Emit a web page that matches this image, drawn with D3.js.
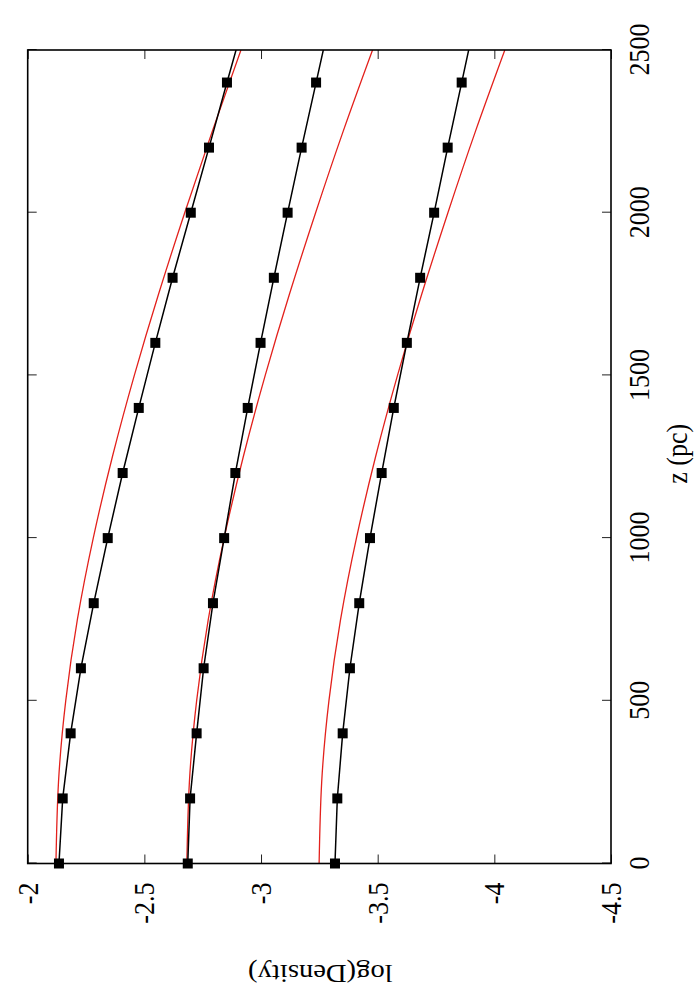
<!DOCTYPE html>
<html>
<head>
<meta charset="utf-8">
<script src="https://cdn.jsdelivr.net/npm/d3@7"></script>
<style>
  html, body { margin: 0; padding: 0; background: #fff; }
  svg { display: block; }
  svg text { font-family: "Liberation Serif", "Times New Roman", Times, "DejaVu Serif", serif !important; font-size: 26px; fill: #000; }
</style>
</head>
<body>
<svg id="chart" width="700" height="1000"></svg>
<script>
// ---- data ----
const zData   = [0, 200, 400, 600, 800, 1000, 1200, 1400, 1600, 1800, 2000, 2200, 2400, 2600];
const series1 = [-2.134, -2.150, -2.184, -2.228, -2.283, -2.343, -2.407, -2.476, -2.547, -2.621, -2.699, -2.777, -2.854, -2.932];
const series2 = [-2.686, -2.696, -2.724, -2.754, -2.794, -2.842, -2.890, -2.943, -2.998, -3.055, -3.114, -3.174, -3.236, -3.298];
const series3 = [-3.317, -3.327, -3.350, -3.381, -3.421, -3.467, -3.517, -3.569, -3.625, -3.682, -3.742, -3.800, -3.860, -3.920];

const zFit = [0, 250, 500, 750, 1000, 1250, 1500, 1750, 2000, 2250, 2500];
const fit1 = [-2.121, -2.132, -2.163, -2.213, -2.281, -2.363, -2.457, -2.561, -2.673, -2.791, -2.914];
const fit2 = [-2.682, -2.693, -2.724, -2.774, -2.842, -2.924, -3.018, -3.122, -3.234, -3.352, -3.478];
const fit3 = [-3.249, -3.260, -3.291, -3.341, -3.409, -3.491, -3.585, -3.689, -3.801, -3.919, -4.045];

const zTicks = [0, 500, 1000, 1500, 2000, 2500];
const yTicks = [-2, -2.5, -3, -3.5, -4, -4.5];
const xLabel = "z (pc)";
const yLabel = "log(Density)";

// ---- layout (drawn unrotated, then rotated -90deg) ----
const FONT = "'Liberation Serif', 'Times New Roman', Times, 'DejaVu Serif', serif";
const svg = d3.select("#chart");
const root = svg.append("g").attr("transform", "translate(0,1000) rotate(-90)")
  .attr("font-family", FONT).attr("font-size", 26);

const mLeft = 136.5, mTop = 27.7;
const W = 813.5, H = 583.3;
const stretch = 1.1;

const x = d3.scaleLinear().domain([0, 2500]).range([0, W]);
const y = d3.scaleLinear().domain([-4.5, -2]).range([H, 0]);

const plot = root.append("g").attr("transform", `translate(${mLeft},${mTop})`);

svg.append("defs").append("clipPath").attr("id", "clip")
  .append("rect").attr("x", 0).attr("y", 0).attr("width", W).attr("height", H);

// axes (inward ticks, mirrored)
const fmt = d => String(d);
const gB = plot.append("g").attr("transform", `translate(0,${H})`)
  .call(d3.axisBottom(x).tickValues(zTicks).tickSize(-9).tickFormat(fmt));
const gT = plot.append("g")
  .call(d3.axisTop(x).tickValues(zTicks).tickSize(-9).tickFormat(""));
const gL = plot.append("g")
  .call(d3.axisLeft(y).tickValues(yTicks).tickSize(-9).tickFormat(fmt));
const gR = plot.append("g").attr("transform", `translate(${W},0)`)
  .call(d3.axisRight(y).tickValues(yTicks).tickSize(-9).tickFormat(""));

[gB, gT, gL, gR].forEach(g => {
  g.select(".domain").remove();
  g.selectAll(".tick line").attr("stroke", "#222").attr("stroke-width", 1);
  g.attr("font-family", FONT).attr("font-size", 26);
});
gB.selectAll(".tick text")
  .attr("y", null).attr("dy", null)
  .attr("text-anchor", "middle")
  .attr("font-family", FONT)
  .attr("transform", `translate(0,38) scale(1,${stretch})`);
gL.selectAll(".tick text")
  .attr("x", null).attr("dy", "0.33em")
  .attr("text-anchor", "end")
  .attr("font-family", FONT)
  .attr("transform", `translate(-19,0) scale(1,${stretch})`);

// lines
const lineData = d3.line().x(d => x(d[0])).y(d => y(d[1]));
const lineFit = d3.line().x(d => x(d[0])).y(d => y(d[1])).curve(d3.curveNatural);

const clipped = plot.append("g").attr("clip-path", "url(#clip)");

[fit1, fit2, fit3].forEach(f => {
  clipped.append("path")
    .attr("d", lineFit(zFit.map((z, i) => [z, f[i]])))
    .attr("fill", "none").attr("stroke", "#e3211c").attr("stroke-width", 1.3);
});

[series1, series2, series3].forEach(s => {
  const pts = zData.map((z, i) => [z, s[i]]);
  clipped.append("path")
    .attr("d", lineData(pts))
    .attr("fill", "none").attr("stroke", "#000").attr("stroke-width", 1.5);
  plot.append("g").selectAll("rect")
    .data(pts.filter(p => p[0] <= 2500))
    .join("rect")
    .attr("x", d => x(d[0]) - 5).attr("y", d => y(d[1]) - 5)
    .attr("width", 10).attr("height", 10)
    .attr("fill", "#000");
});

// frame
plot.append("rect").attr("x", 0).attr("y", 0).attr("width", W).attr("height", H)
  .attr("fill", "none").attr("stroke", "#000").attr("stroke-width", 1.6);

// axis labels
root.append("text")
  .attr("text-anchor", "middle")
  .attr("font-family", FONT)
  .attr("transform", `translate(${mLeft + W / 2 + 3},687) scale(1,${stretch})`)
  .text(xLabel);
root.append("text")
  .attr("text-anchor", "middle")
  .attr("font-family", FONT)
  .attr("transform", `translate(35,${mTop + H / 2 + 1}) rotate(-90) scale(${stretch},1)`)
  .text(yLabel);
</script>
</body>
</html>
